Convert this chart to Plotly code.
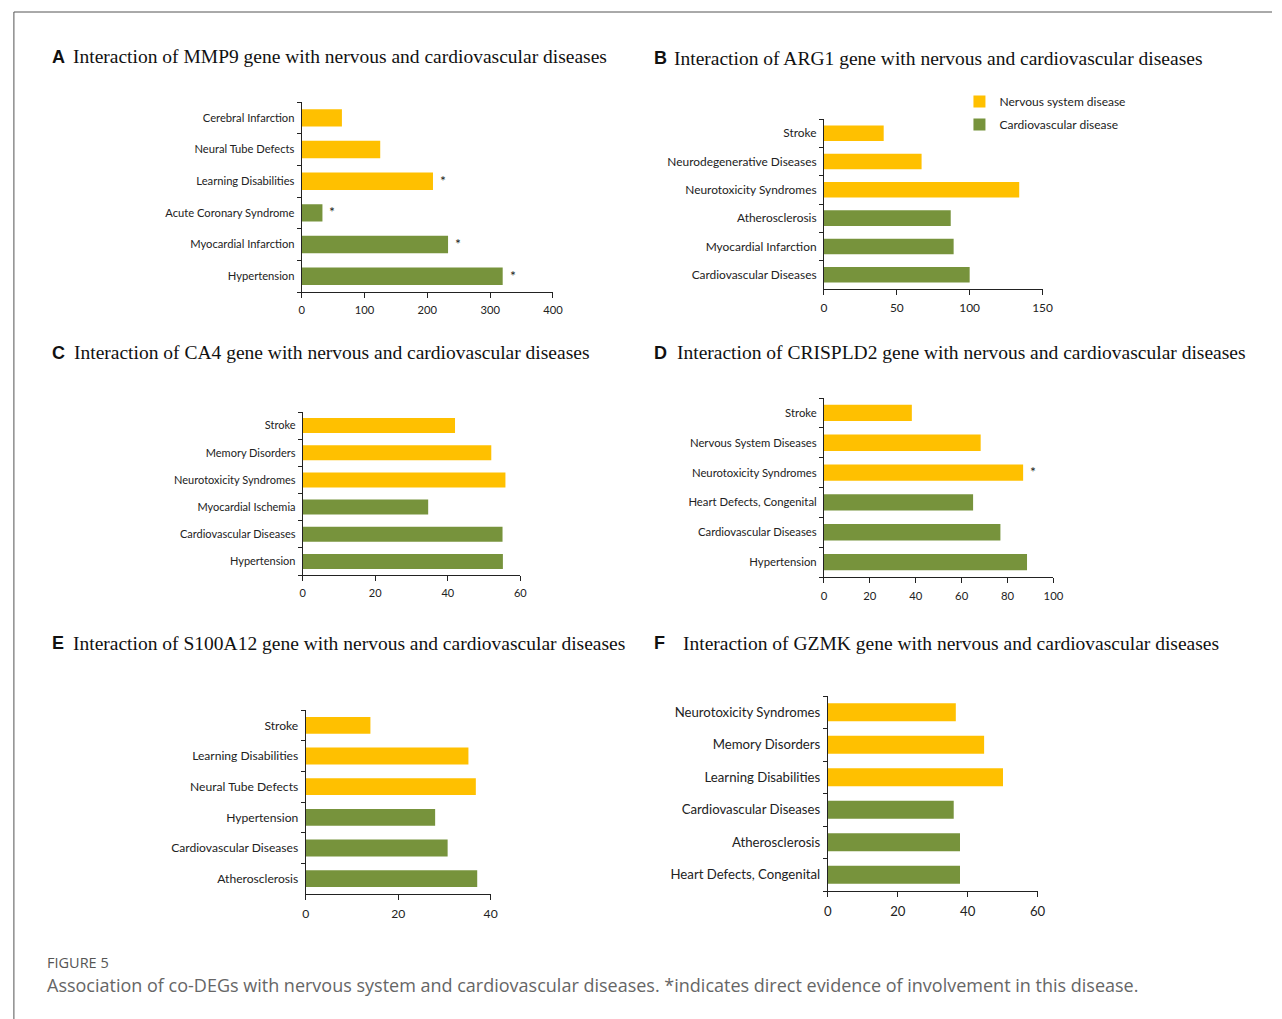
import plotly.graph_objects as go

W, H = 1282, 1019

# ---------------- data ----------------
A_cats = ["Cerebral Infarction", "Neural Tube Defects", "Learning Disabilities",
          "Acute Coronary Syndrome", "Myocardial Infarction", "Hypertension"]
A_vals = [64, 125, 209, 33, 233, 320]
A_star = [0, 0, 1, 1, 1, 1]

B_cats = ["Stroke", "Neurodegenerative Diseases", "Neurotoxicity Syndromes",
          "Atherosclerosis", "Myocardial Infarction", "Cardiovascular Diseases"]
B_vals = [41, 67, 134, 87, 89, 100]
B_star = [0, 0, 0, 0, 0, 0]

C_cats = ["Stroke", "Memory Disorders", "Neurotoxicity Syndromes",
          "Myocardial Ischemia", "Cardiovascular Diseases", "Hypertension"]
C_vals = [42, 52, 55.9, 34.6, 55.1, 55.2]
C_star = [0, 0, 0, 0, 0, 0]

D_cats = ["Stroke", "Nervous System Diseases", "Neurotoxicity Syndromes",
          "Heart Defects, Congenital", "Cardiovascular Diseases", "Hypertension"]
D_vals = [38.3, 68.3, 86.8, 65, 76.9, 88.5]
D_star = [0, 0, 1, 0, 0, 0]

E_cats = ["Stroke", "Learning Disabilities", "Neural Tube Defects",
          "Hypertension", "Cardiovascular Diseases", "Atherosclerosis"]
E_vals = [14, 35.2, 36.8, 28, 30.7, 37.1]
E_star = [0, 0, 0, 0, 0, 0]

F_cats = ["Neurotoxicity Syndromes", "Memory Disorders", "Learning Disabilities",
          "Cardiovascular Diseases", "Atherosclerosis", "Heart Defects, Congenital"]
F_vals = [36.6, 44.7, 50.1, 36, 37.8, 37.8]
F_star = [0, 0, 0, 0, 0, 0]

groups = ["N", "N", "N", "C", "C", "C"]  # N = nervous, C = cardiovascular

titles = {
    "A": "Interaction of MMP9 gene with nervous and cardiovascular diseases",
    "B": "Interaction of ARG1 gene with nervous and cardiovascular diseases",
    "C": "Interaction of CA4 gene with nervous and cardiovascular diseases",
    "D": "Interaction of CRISPLD2 gene with nervous and cardiovascular diseases",
    "E": "Interaction of S100A12 gene with nervous and cardiovascular diseases",
    "F": "Interaction of GZMK gene with nervous and cardiovascular diseases",
}
series_names = {"N": "Nervous system disease", "C": "Cardiovascular disease"}
caption_head = "FIGURE 5"
caption_text = ("Association of co-DEGs with nervous system and cardiovascular diseases. "
                "*indicates direct evidence of involvement in this disease.")

# ---------------- style / layout ----------------
YELLOW = "#FFC000"
GREEN = "#77933C"
colors = {"N": YELLOW, "C": GREEN}
LABEL_FONT = "Lato, 'Open Sans', sans-serif"

# panel: (key, cats, vals, stars, xrange, dtick, plot px box (x0,x1,y0,y1), font size,
#         letter px (x,y), title start px)
panels = [
    ("A", A_cats, A_vals, A_star, [0, 400], 100, (301, 555, 102, 292), 11.2, (47, 57), 68),
    ("B", B_cats, B_vals, B_star, [0, 150], 50, (829, 1050, 119, 289), 11.9, (655, 58), 675),
    ("C", C_cats, C_vals, C_star, [0, 60], 20, (302, 522, 412, 575), 11.0, (47, 353), 69),
    ("D", D_cats, D_vals, D_star, [0, 100], 20, (829, 1061, 398, 577), 11.3, (655, 353), 678),
    ("E", E_cats, E_vals, E_star, [0, 40], 20, (305, 492, 710, 894), 12.1, (47, 643), 68),
    ("F", F_cats, F_vals, F_star, [0, 60], 20, (833, 1045, 696, 891), 13.2, (655, 643), 684),
]

fig = go.Figure()
annotations = []
layout_axes = {}

for i, (key, cats, vals, stars, xr, dt, box, fs, letter, tstart) in enumerate(panels):
    n = i + 1
    xa = "x" if n == 1 else f"x{n}"
    ya = "y" if n == 1 else f"y{n}"
    for g in ["N", "C"]:
        ys = [c for c, gg in zip(cats, groups) if gg == g]
        xs = [v for v, gg in zip(vals, groups) if gg == g]
        fig.add_trace(go.Bar(
            x=xs, y=ys, orientation="h", xaxis=xa, yaxis=ya,
            marker=dict(color=colors[g], line=dict(width=0)),
            name=series_names[g], showlegend=(key == "B"),
            legendgroup=g, legendrank=1 if g == "N" else 2,
        ))
    x0, x1, y0, y1 = box
    layout_axes["xaxis" if n == 1 else f"xaxis{n}"] = dict(
        domain=[x0 / W, x1 / W], anchor=ya, range=xr, dtick=dt, tick0=0,
        showgrid=False, zeroline=False, showline=True, linecolor="#222", linewidth=1,
        ticks="outside", ticklen=5, tickcolor="#222", tickwidth=1, ticklabelstandoff=3,
        tickfont=dict(family=LABEL_FONT, size=fs, color="#222"), fixedrange=True,
    )
    layout_axes["yaxis" if n == 1 else f"yaxis{n}"] = dict(
        domain=[1 - y1 / H, 1 - y0 / H], anchor=xa, type="category",
        categoryorder="array", categoryarray=list(reversed(cats)),
        showgrid=False, zeroline=False, showline=True, linecolor="#222", linewidth=1,
        ticks="outside", ticklen=4, tickson="boundaries", tickcolor="#222",
        ticklabelstandoff=4,
        tickfont=dict(family=LABEL_FONT, size=fs, color="#222"), fixedrange=True,
    )
    # panel letter + title
    annotations.append(dict(
        xref="paper", yref="paper", x=letter[0] / W, y=1 - letter[1] / H,
        xanchor="left", yanchor="middle", showarrow=False,
        text=f"<b>{key}</b>", font=dict(family="Liberation Sans, Arial", size=18, color="#111")))
    annotations.append(dict(
        xref="paper", yref="paper", x=tstart / W, y=1 - letter[1] / H,
        xanchor="left", yanchor="middle", showarrow=False,
        text=titles[key], font=dict(family="Liberation Serif, Times New Roman, serif", size=19.5, color="#111")))
    # asterisks
    for c, v, s in zip(cats, vals, stars):
        if s:
            annotations.append(dict(
                xref=xa, yref=ya, x=v, y=c, xanchor="left", yanchor="middle",
                xshift=5, yshift=1, showarrow=False, text="*",
                font=dict(family=LABEL_FONT, size=14, color="#222")))

# caption
annotations.append(dict(
    xref="paper", yref="paper", x=41 / W, y=1 - 962 / H, xanchor="left", yanchor="middle",
    showarrow=False, text=caption_head,
    font=dict(family="Open Sans, sans-serif", size=14.5, color="#555")))
annotations.append(dict(
    xref="paper", yref="paper", x=41 / W, y=1 - 985 / H, xanchor="left", yanchor="middle",
    showarrow=False, text=caption_text,
    font=dict(family="Open Sans, sans-serif", size=18, color="#666")))

shapes = [
    dict(type="line", xref="paper", yref="paper", x0=10 / W, x1=1.0, y0=1 - 12 / H, y1=1 - 12 / H,
         line=dict(color="#555", width=1)),
    dict(type="line", xref="paper", yref="paper", x0=10 / W, x1=10 / W, y0=0, y1=1 - 12 / H,
         line=dict(color="#555", width=1)),
]

fig.update_layout(
    width=W, height=H, margin=dict(l=0, r=0, t=0, b=0),
    paper_bgcolor="white", plot_bgcolor="white",
    barmode="relative", bargap=0.45,
    showlegend=True,
    legend=dict(x=966 / W, y=1 - 87 / H, xanchor="left", yanchor="top",
                bgcolor="rgba(0,0,0,0)", font=dict(family=LABEL_FONT, size=12, color="#222"),
                itemwidth=30, tracegroupgap=4, traceorder="grouped"),
    annotations=annotations, shapes=shapes,
    **layout_axes,
)

fig.write_html("out.html", config={"displayModeBar": False})
